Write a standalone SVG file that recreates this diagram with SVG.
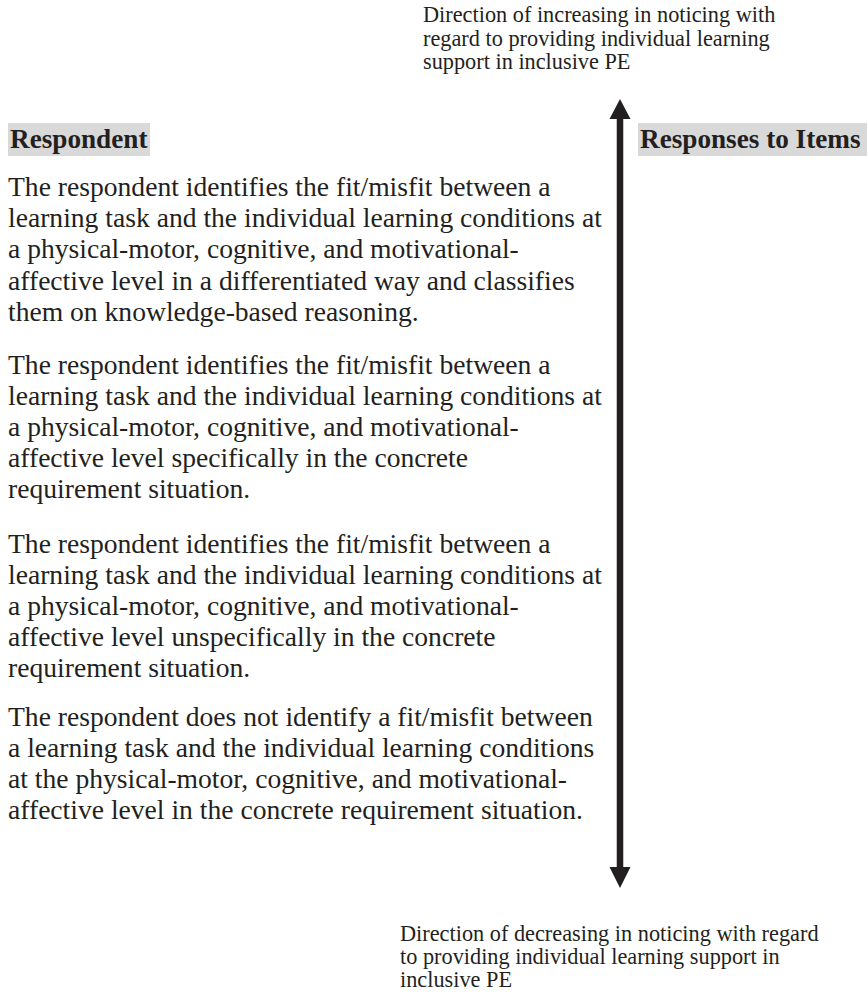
<svg xmlns="http://www.w3.org/2000/svg" width="867" height="999" viewBox="0 0 867 999">
<style>
text{font-family:"Liberation Serif","Times New Roman",serif;fill:#231f20}
.body{font-size:27.6px}
.dir{font-size:22.3px}
.head{font-size:27.2px;font-weight:bold}
.hl{fill:#d9d9da}
</style>
<rect width="867" height="999" fill="#fff"/>
<g id="connectors">
<line x1="620" y1="116" x2="620" y2="870" stroke="#231f20" stroke-width="6.5"/>
<path d="M620,99 L609.5,119 L630.5,119 Z" fill="#231f20"/>
<path d="M620,888 L609.5,867 L630.5,867 Z" fill="#231f20"/>
</g>
<g id="top-label">
<text class="dir" x="423" y="22">Direction of increasing in noticing with</text>
<text class="dir" x="423" y="46">regard to providing individual learning</text>
<text class="dir" x="423" y="69">support in inclusive PE</text>
</g>
<g id="respondent-header">
<rect class="hl" x="8" y="123" width="142" height="33"/>
<text class="head" x="10" y="148">Respondent</text>
</g>
<g id="responses-header">
<rect class="hl" x="638" y="123" width="229" height="33"/>
<text class="head" x="640" y="148">Responses to Items</text>
</g>
<g id="level4">
<text class="body" x="8" y="196">The respondent identifies the fit/misfit between a</text>
<text class="body" x="8" y="227">learning task and the individual learning conditions at</text>
<text class="body" x="8" y="258">a physical-motor, cognitive, and motivational-</text>
<text class="body" x="8" y="290">affective level in a differentiated way and classifies</text>
<text class="body" x="8" y="321">them on knowledge-based reasoning.</text>
</g>
<g id="level3">
<text class="body" x="8" y="374">The respondent identifies the fit/misfit between a</text>
<text class="body" x="8" y="405">learning task and the individual learning conditions at</text>
<text class="body" x="8" y="436">a physical-motor, cognitive, and motivational-</text>
<text class="body" x="8" y="467">affective level specifically in the concrete</text>
<text class="body" x="8" y="498">requirement situation.</text>
</g>
<g id="level2">
<text class="body" x="8" y="553">The respondent identifies the fit/misfit between a</text>
<text class="body" x="8" y="584">learning task and the individual learning conditions at</text>
<text class="body" x="8" y="615">a physical-motor, cognitive, and motivational-</text>
<text class="body" x="8" y="646">affective level unspecifically in the concrete</text>
<text class="body" x="8" y="677">requirement situation.</text>
</g>
<g id="level1">
<text class="body" x="8" y="726">The respondent does not identify a fit/misfit between</text>
<text class="body" x="8" y="757">a learning task and the individual learning conditions</text>
<text class="body" x="8" y="788">at the physical-motor, cognitive, and motivational-</text>
<text class="body" x="8" y="819">affective level in the concrete requirement situation.</text>
</g>
<g id="bottom-label">
<text class="dir" x="400" y="941">Direction of decreasing in noticing with regard</text>
<text class="dir" x="400" y="964">to providing individual learning support in</text>
<text class="dir" x="400" y="987">inclusive PE</text>
</g>
</svg>
